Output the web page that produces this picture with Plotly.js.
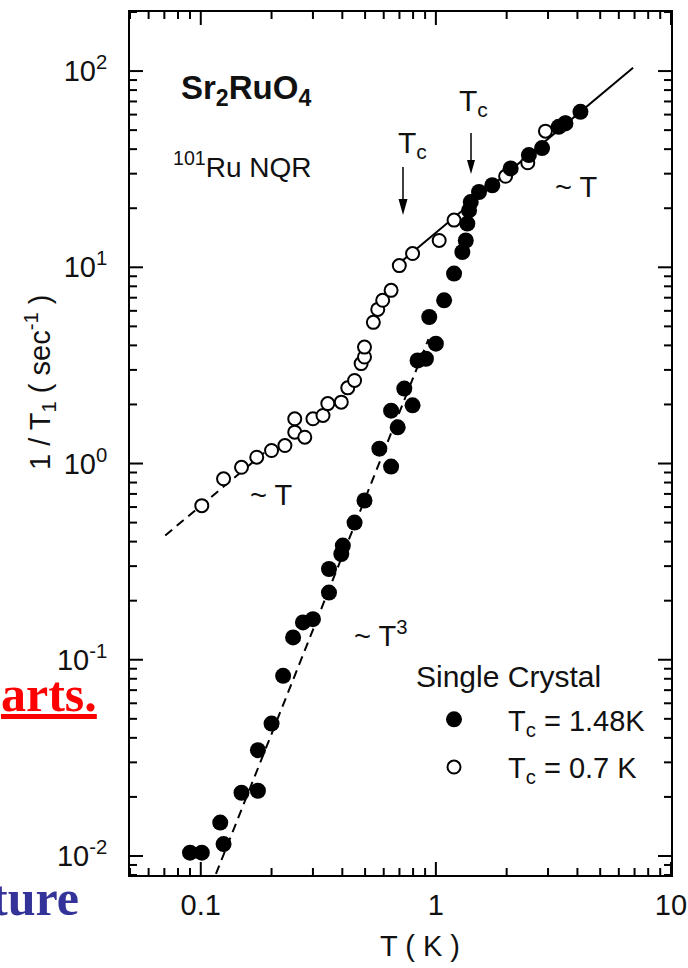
<!DOCTYPE html>
<html><head><meta charset="utf-8">
<script src="https://cdn.plot.ly/plotly-3.0.1.min.js"></script>
<style>html,body{margin:0;padding:0;background:#fff}#chart{width:688px;height:968px}</style>
</head><body><div id="chart"></div>
<script>
// ---- data ----
const filledT = [0.090, 0.101, 0.121, 0.125, 0.149, 0.175, 0.175, 0.200, 0.224, 0.247, 0.272, 0.300, 0.351, 0.351, 0.396, 0.402, 0.451, 0.497, 0.575, 0.645, 0.688, 0.645, 0.734, 0.796, 0.836, 0.907, 1.000, 0.937, 1.084, 1.195, 1.296, 1.340, 1.361, 1.384, 1.407, 1.526, 1.738, 2.08, 2.486, 2.83, 3.33, 3.556, 4.12];
const filledY = [0.0104, 0.0104, 0.0148, 0.0115, 0.0210, 0.0215, 0.0346, 0.0473, 0.0828, 0.130, 0.155, 0.161, 0.220, 0.290, 0.346, 0.382, 0.500, 0.648, 1.19, 0.965, 1.53, 1.86, 2.41, 1.98, 3.35, 3.42, 4.08, 5.58, 6.79, 9.29, 11.97, 13.7, 16.7, 19.5, 21.5, 24.2, 26.2, 31.9, 37.3, 40.5, 52.0, 54.1, 62.0];
const openT = [0.101, 0.125, 0.149, 0.173, 0.200, 0.228, 0.251, 0.251, 0.277, 0.300, 0.331, 0.347, 0.396, 0.422, 0.451, 0.481, 0.497, 0.497, 0.542, 0.566, 0.594, 0.645, 0.699, 0.796, 1.033, 1.195, 1.98, 2.46, 2.925, 3.556];
const openY = [0.610, 0.836, 0.957, 1.077, 1.165, 1.235, 1.445, 1.69, 1.362, 1.69, 1.758, 2.02, 2.055, 2.43, 2.65, 3.23, 3.49, 3.92, 5.24, 6.10, 6.79, 7.63, 10.2, 11.75, 13.7, 17.4, 29.1, 34.1, 49.4, 54.6];
// guide lines (end points)
const fitLowT = [0.0706, 0.20];
const fitLowY = [0.43, 1.22];
const fitCubeT = [0.116, 0.93];
const fitCubeY = [0.0081, 4.3];
const fitNormT = [0.70, 6.9];
const fitNormY = [10.5, 104];
// ticks and labels
const xTickVals = [0.1, 1, 10];
const xTickText = ['0.1', '1', '10'];
const yTickVals = [0.01, 0.1, 1, 10, 100];
const yTickText = ['10<sup>-2</sup>', '10<sup>-1</sup>', '10<sup>0</sup>', '10<sup>1</sup>', '10<sup>2</sup>'];
const legendNames = ['T<sub>c</sub> = 1.48K', 'T<sub>c</sub> = 0.7 K'];
const xTitle = 'T ( K )';
const yTitle = '1 / T<sub>1</sub> ( sec<sup>-1</sup> )';

// ---- geometry helpers ----
const W = 688, H = 968, L = 130, R = 17, T = 12, B = 93;
const pw = W - L - R, ph = H - T - B;
const px = x => (x - L) / pw;
const py = y => (H - B - y) / ph;
const X_RANGE = [Math.log10(0.05), 1.0001];
const Y_RANGE = [Math.log10(0.008), Math.log10(200)];
const xFrac = v => (Math.log10(v) - X_RANGE[0]) / (X_RANGE[1] - X_RANGE[0]);
const yFrac = v => (Math.log10(v) - Y_RANGE[0]) / (Y_RANGE[1] - Y_RANGE[0]);

function minorVals(lo, hi) {
  const v = [];
  for (let e = -3; e <= 3; e++) for (let m = 2; m <= 9; m++) {
    const t = +(m * Math.pow(10, e)).toPrecision(3);
    if (t >= lo * 0.999 && t <= hi * 1.001) v.push(t);
  }
  return v;
}
const xMinor = minorVals(0.05, 10);
const yMinor = minorVals(0.008, 200);

const FONT = 'Liberation Sans, Arial, Helvetica, sans-serif';
const TXT = '#111';

const traces = [
  {x: fitLowT, y: fitLowY, mode: 'lines', line: {color: '#000', width: 2, dash: '9px,6px'}, showlegend: false, hoverinfo: 'skip'},
  {x: fitCubeT, y: fitCubeY, mode: 'lines', line: {color: '#000', width: 2, dash: '9px,6px'}, showlegend: false, hoverinfo: 'skip'},
  {x: fitNormT, y: fitNormY, mode: 'lines', line: {color: '#000', width: 2}, showlegend: false, hoverinfo: 'skip'},
  {x: openT, y: openY, mode: 'markers', name: legendNames[1], legendgroup: 'b', legendrank: 2,
   marker: {symbol: 'circle', size: 13, color: '#fff', line: {color: '#000', width: 2}}},
  {x: filledT, y: filledY, mode: 'markers', name: legendNames[0], legendgroup: 'a', legendrank: 1,
   marker: {symbol: 'circle', size: 16, color: '#000', line: {width: 0}}}
];

function arrow(x, y0, y1, hw, hl) {
  return [
    {type: 'line', xref: 'paper', yref: 'paper', x0: px(x), x1: px(x), y0: py(y0), y1: py(y1 - hl + 1), line: {color: '#000', width: 1.5}},
    {type: 'path', xref: 'paper', yref: 'paper',
     path: `M ${px(x - hw)},${py(y1 - hl)} L ${px(x + hw)},${py(y1 - hl)} L ${px(x)},${py(y1)} Z`,
     fillcolor: '#000', line: {width: 0}}
  ];
}

// inward tick marks on all four sides of the frame
function tickShapes() {
  const s = [];
  const add = (x0, x1, y0, y1) => s.push({type: 'line', xref: 'paper', yref: 'paper', x0: x0, x1: x1, y0: y0, y1: y1,
                                           line: {color: '#000', width: 2}, layer: 'above'});
  const lx = n => n / pw, ly = n => n / ph;
  const MAJ = 13, MIN = 7;
  xTickVals.forEach(v => { const f = xFrac(v); add(f, f, 0, ly(MAJ)); add(f, f, 1, 1 - ly(MAJ)); });
  xMinor.forEach(v => { const f = xFrac(v); add(f, f, 0, ly(MIN)); add(f, f, 1, 1 - ly(MIN)); });
  yTickVals.forEach(v => { const f = yFrac(v); add(0, lx(MAJ), f, f); add(1, 1 - lx(MAJ), f, f); });
  yMinor.forEach(v => { const f = yFrac(v); add(0, lx(MIN), f, f); add(1, 1 - lx(MIN), f, f); });
  return s;
}

const ann = (text, x, y, size, extra) => Object.assign({
  text: text, x: px(x), y: py(y), xref: 'paper', yref: 'paper', xanchor: 'left', yanchor: 'middle',
  showarrow: false, font: {family: FONT, size: size, color: TXT}
}, extra || {});

const annotations = [
  ann(xTitle, 420, 946, 29, {xanchor: 'center'}),
  ann(yTitle, 40, 383, 29, {xanchor: 'center', textangle: -90}),
  ann('<b>Sr<sub>2</sub>RuO<sub>4</sub></b>', 179, 90, 33),
  ann('<sup>101</sup>Ru NQR', 171, 165, 28),
  ann('T<sub>c</sub>', 396, 144, 30),
  ann('T<sub>c</sub>', 457, 102, 30),
  ann('~ T', 553, 187, 29),
  ann('~ T', 248, 495, 29),
  ann('~ T<sup>3</sup>', 352, 634, 29),
  ann('Single Crystal', 414, 676, 30),
  ann('<b><u>arts.</u></b>', 99, 694, 50, {xanchor: 'right', font: {family: 'Liberation Serif, Times New Roman, serif', size: 50, color: '#ff0000'}}),
  ann('<b>ture</b>', 81, 898, 50, {xanchor: 'right', font: {family: 'Liberation Serif, Times New Roman, serif', size: 50, color: '#333399'}})
];

const shapes = [].concat(arrow(403, 167, 215, 4.5, 16), arrow(471, 133, 174, 4, 14), tickShapes());

const axisCommon = {
  type: 'log', tickmode: 'array', ticks: '',
  showline: true, linewidth: 2, linecolor: '#000', mirror: true, showgrid: false, zeroline: false,
  tickfont: {family: FONT, size: 29, color: TXT}
};

const layout = {
  width: W, height: H,
  margin: {l: L, r: R, t: T, b: B, pad: 0},
  paper_bgcolor: '#fff', plot_bgcolor: '#fff',
  font: {family: FONT, size: 29, color: TXT},
  xaxis: Object.assign({}, axisCommon, {range: X_RANGE, tickvals: xTickVals, ticktext: xTickText, ticklabelstandoff: 3}),
  yaxis: Object.assign({}, axisCommon, {range: Y_RANGE, tickvals: yTickVals, ticktext: yTickText, ticklabelstandoff: 15}),
  showlegend: true,
  legend: {x: px(400), xanchor: 'left', y: py(694), yanchor: 'top', bgcolor: 'rgba(0,0,0,0)', itemwidth: 98,
           font: {family: FONT, size: 29, color: TXT}, tracegroupgap: 7, traceorder: 'grouped'},
  annotations: annotations,
  shapes: shapes
};

Plotly.newPlot('chart', traces, layout, {displayModeBar: false, staticPlot: true});
</script>
</body></html>
